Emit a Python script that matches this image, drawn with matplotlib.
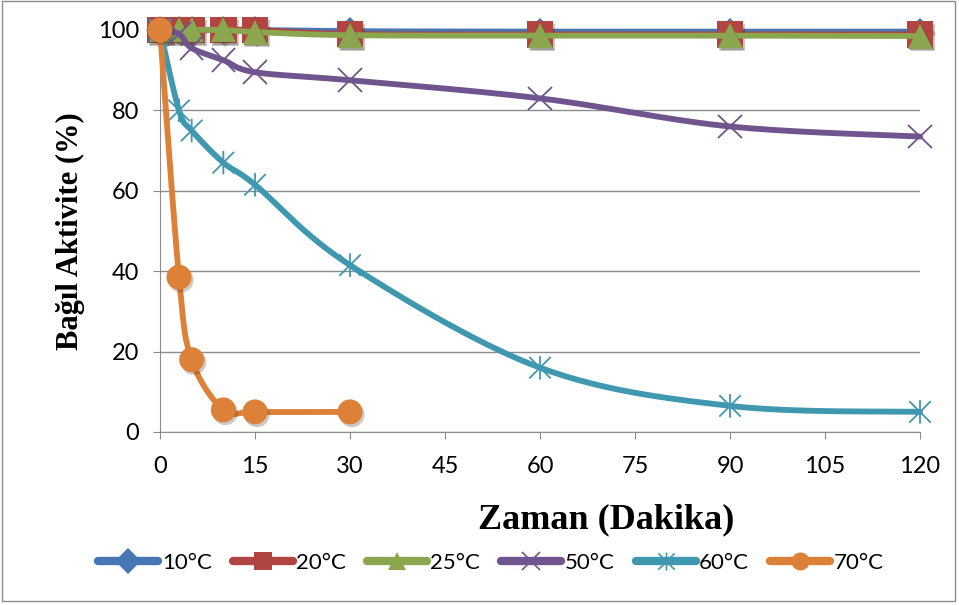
import numpy as np
import matplotlib
matplotlib.use("Agg")
import matplotlib.pyplot as plt
from matplotlib.lines import Line2D
from matplotlib.patches import Rectangle
from matplotlib.path import Path
import matplotlib.patheffects as pe

# time points (minutes)
zaman = [0, 3, 5, 10, 15, 30, 60, 90, 120]
zaman_70 = [0, 3, 5, 10, 15, 30]

t10 = [100, 100, 100, 100, 100, 99.7, 99.6, 99.6, 99.6]
t20 = [100, 100, 100, 100, 100, 99.0, 98.9, 98.9, 98.9]
t25 = [100, 100, 100, 100, 99.5, 98.7, 98.6, 98.6, 98.5]
t50 = [100, 99, 95.5, 92.5, 89.5, 87.5, 83, 76, 73.5]
t60 = [100, 80, 75, 67, 61.5, 41.5, 16, 6.5, 5]
t70 = [100, 38.5, 18, 5.5, 5, 5]

labels = ["10°C", "20°C", "25°C", "50°C", "60°C", "70°C"]
colors = ["#4676b4", "#b14541", "#8aa64f", "#6f548e", "#3f98b0", "#dd8139"]

# excel "star" marker: an x with a vertical bar
star = Path([(-1, -1), (1, 1), (-1, 1), (1, -1), (0, -1.1), (0, 1.1)],
            [Path.MOVETO, Path.LINETO, Path.MOVETO, Path.LINETO, Path.MOVETO, Path.LINETO])
markers = ["D", "s", "^", "x", star, "o"]
open_marker = [False, False, False, True, True, False]


def smooth(x, y, n=30):
    # excel-like smoothed line (bezier through the points)
    p = np.column_stack([x, y]).astype(float)
    p = np.vstack([p[0], p, p[-1]])
    out = []
    for i in range(1, len(p) - 2):
        p0, p1, p2, p3 = p[i - 1], p[i], p[i + 1], p[i + 2]
        c1 = p1 + (p2 - p0) / 6
        c2 = p2 - (p3 - p1) / 6
        t = np.linspace(0, 1, n)[:, None]
        seg = ((1 - t) ** 3) * p1 + 3 * ((1 - t) ** 2) * t * c1 + 3 * (1 - t) * t ** 2 * c2 + t ** 3 * p2
        out.append(seg)
    out = np.vstack(out)
    return out[:, 0], out[:, 1]


fig = plt.figure(figsize=(9.59, 6.05), dpi=100)
ax = fig.add_axes([160 / 959, 1 - 432 / 605, 760 / 959, 402 / 605])

shadow = [pe.SimplePatchShadow(offset=(1.5, -2), alpha=0.25), pe.Normal()]

series = [(zaman, t10), (zaman, t20), (zaman, t25), (zaman, t50), (zaman, t60), (zaman_70, t70)]
msizes = [14, 19, 18, 17, 17, 18]
handles = []
for i, ((x, y), lab, c, m) in enumerate(zip(series, labels, colors, markers)):
    sx, sy = smooth(x, y)
    z = 3 + i
    ax.plot(sx, sy, color=c, lw=4.2, solid_capstyle="round", zorder=z, clip_on=False)
    mew = 1.3 if open_marker[i] else 0
    ax.plot(x, y, ls="none", marker=m, ms=msizes[i], mec=c, mfc=c, mew=mew,
            zorder=z, clip_on=False, path_effects=shadow)
    handles.append(Line2D([], [], color=c, lw=6, marker=m, ms=13, mfc=c, mec=c,
                          mew=1.2 if open_marker[i] else 0, solid_capstyle="round"))

ax.set_xlim(0, 120)
ax.set_ylim(0, 100)
ax.set_xticks(range(0, 121, 15))
ax.set_yticks(range(0, 101, 20))
ax.yaxis.grid(True, color="#8c8c8c", lw=1)
ax.set_axisbelow(True)
for s in ("top", "right"):
    ax.spines[s].set_visible(False)
for s in ("left", "bottom"):
    ax.spines[s].set_color("#8c8c8c")
ax.tick_params(direction="out", length=5, color="#8c8c8c", labelsize=17)
ax.tick_params(axis="x", pad=12)
ax.tick_params(axis="y", pad=10)
for lab in ax.get_xticklabels() + ax.get_yticklabels():
    lab.set_fontfamily("Lato")

ax.set_xlabel("Zaman (Dakika)", fontfamily="Liberation Serif", fontweight="bold",
              fontsize=26)
ax.xaxis.set_label_coords((606 - 160) / 760, -(520 - 432) / 402)
ax.xaxis.label.set_va("center")
ax.set_ylabel("Bağıl Aktivite (%)", fontfamily="Liberation Serif", fontweight="bold",
              fontsize=22)
ax.yaxis.set_label_coords(-(160 - 70) / 760, 0.5)
ax.yaxis.label.set_va("center")

fig.legend(handles, labels, loc="center", bbox_to_anchor=(0.512, 1 - 563 / 605), ncol=6,
           frameon=False, handlelength=2.7, handletextpad=0.15, columnspacing=0.95,
           prop={"family": "Lato", "size": 16})

fig.patches.append(Rectangle((0.002, 0.006), 0.994, 0.992, transform=fig.transFigure,
                             fill=False, ec="#8c8c8c", lw=1))

fig.savefig("out.png", dpi=100)
